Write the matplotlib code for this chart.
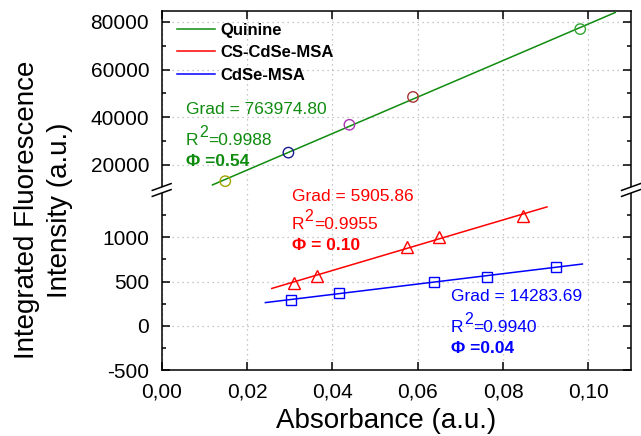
import numpy as np
import matplotlib
matplotlib.use('Agg')
import matplotlib.pyplot as plt
from matplotlib.lines import Line2D
from matplotlib.patches import Polygon
from matplotlib.text import Annotation

plt.rcParams['font.family'] = ['Liberation Sans', 'DejaVu Sans']
plt.rcParams['axes.unicode_minus'] = False

# ---------------- data ----------------
quinine_x = [0.0149, 0.0297, 0.0440, 0.0589, 0.0981]
quinine_y = [13100, 25100, 36800, 48500, 77000]
quinine_colors = ['#a3a300', '#1a1a8c', '#a833b0', '#a83333', '#33a533']
cs_x = [0.0311, 0.0364, 0.0576, 0.0649, 0.0848]
cs_y = [486, 566, 894, 1007, 1241]
cdse_x = [0.0304, 0.0415, 0.0638, 0.0762, 0.0924]
cdse_y = [291, 373, 498, 554, 667]
quinine_fit_range = [0.0119, 0.1063]
cs_fit_range = [0.0258, 0.0903]
cdse_fit_range = [0.0243, 0.0986]
series_names = ['Quinine', 'CS-CdSe-MSA', 'CdSe-MSA']
x_ticks = [0.00, 0.02, 0.04, 0.06, 0.08, 0.10]
x_ticklabels = ['0,00', '0,02', '0,04', '0,06', '0,08', '0,10']
upper_yticks = [20000, 40000, 60000, 80000]
upper_yminor = [10000, 30000, 50000, 70000]
lower_yticks = [-500, 0, 500, 1000]
lower_yminor = [-250, 250, 750, 1250]
quinine_grad, quinine_r2, quinine_phi = 'Grad = 763974.80', '=0.9988', '\u03a6 =0.54'
cs_grad, cs_r2, cs_phi = 'Grad = 5905.86', '=0.9955', '\u03a6 = 0.10'
cdse_grad, cdse_r2, cdse_phi = 'Grad = 14283.69', '=0.9940', '\u03a6 =0.04'

GREEN = '#0f8c0f'
RED = '#ff0000'
BLUE = '#0000ff'

W, H = 641, 436
fig = plt.figure(figsize=(W / 100, H / 100), dpi=100)

def fx(x):
    return x / W

def fy(y):
    return 1 - y / H

L, R, TOP, BRK, BOT = 161.7, 631.0, 11.0, 190.0, 370.0
ax_up = fig.add_axes([fx(L), fy(BRK), fx(R) - fx(L), (BRK - TOP) / H])
ax_lo = fig.add_axes([fx(L), fy(BOT), fx(R) - fx(L), (BOT - BRK) / H])

for ax in (ax_up, ax_lo):
    ax.set_xlim(0, 0.110)
    ax.set_xticks(x_ticks)
    ax.set_axisbelow(True)
    ax.grid(True, which='major', linestyle=(0, (1, 3)), color='#b5b5b5', linewidth=0.9)
    ax.tick_params(which='major', direction='in', length=6, width=1.1, labelsize=15, pad=9)
    ax.tick_params(which='minor', direction='in', length=3, width=1.1)
    for s in ax.spines.values():
        s.set_linewidth(1.1)
    ax.yaxis.set_ticks_position('both')
    ax.tick_params(axis='y', labelright=False)

ax_up.set_ylim(9400, 84600)
ax_up.set_yticks(upper_yticks)
ax_up.set_yticks(upper_yminor, minor=True)
ax_up.xaxis.set_ticks_position('top')
ax_up.tick_params(axis='x', labeltop=False, labelbottom=False)
ax_up.spines['bottom'].set_visible(False)

ax_lo.set_ylim(-500, 1535)
ax_lo.set_yticks(lower_yticks)
ax_lo.set_yticks(lower_yminor, minor=True)
ax_lo.xaxis.set_ticks_position('bottom')
ax_lo.set_xticklabels(x_ticklabels)
ax_lo.spines['top'].set_visible(False)

# quinine
p = np.polyfit(quinine_x, quinine_y, 1)
xx = np.array(quinine_fit_range)
ax_up.plot(xx, np.polyval(p, xx), color=GREEN, lw=1.1, zorder=3)
ax_up.scatter(quinine_x, quinine_y, s=7.5 ** 2, facecolors='none',
              edgecolors=quinine_colors, linewidths=1.0, zorder=4)

# CS-CdSe-MSA
p = np.polyfit(cs_x, cs_y, 1)
xx = np.array(cs_fit_range)
ax_lo.plot(xx, np.polyval(p, xx), color=RED, lw=1.1, zorder=3)
ax_lo.plot(cs_x, cs_y, ls='none', marker='^', ms=8.5, mfc='none', mec=RED, mew=1.0, zorder=4)

# CdSe-MSA
p = np.polyfit(cdse_x, cdse_y, 1)
xx = np.array(cdse_fit_range)
ax_lo.plot(xx, np.polyval(p, xx), color=BLUE, lw=1.1, zorder=3)
ax_lo.plot(cdse_x, cdse_y, ls='none', marker='s', ms=6.8, mfc='none', mec=BLUE, mew=1.0, zorder=4)

# legend
handles = [Line2D([], [], color=c, lw=1.1) for c in (GREEN, RED, BLUE)]
leg = fig.legend(handles, series_names, loc='upper left',
                 bbox_to_anchor=(fx(176.7), fy(22.5)), frameon=False,
                 borderpad=0, borderaxespad=0, handlelength=2.3, handletextpad=0.35,
                 labelspacing=0.45, prop={'weight': 'bold', 'size': 12})

# annotations
FS = 12.5

def block(x, ys, grad, r2, phi, color):
    fig.text(fx(x), fy(ys[0]), grad, color=color, fontsize=FS, va='baseline', ha='left')
    t1 = fig.text(fx(x), fy(ys[1]), 'R', color=color, fontsize=FS, va='baseline', ha='left')
    t2 = Annotation('2', xy=(1, 0), xycoords=t1, xytext=(0.4, 5.6),
                    textcoords='offset points', color=color, fontsize=11.5,
                    va='bottom', ha='left', annotation_clip=False)
    t2.set_clip_on(False)
    fig.add_artist(t2)
    t3 = Annotation(r2, xy=(1, 0), xycoords=(t2, t1), xytext=(0.3, 0),
                    textcoords='offset points', color=color, fontsize=FS,
                    va='bottom', ha='left', annotation_clip=False)
    t3.set_clip_on(False)
    fig.add_artist(t3)
    fig.text(fx(x), fy(ys[2]), phi, color=color, fontsize=FS, va='baseline', ha='left',
             fontweight='bold')

block(186, [114, 145, 166], quinine_grad, quinine_r2, quinine_phi, GREEN)
block(291.5, [200.5, 229, 250], cs_grad, cs_r2, cs_phi, RED)
block(451, [300.7, 331.7, 352.7], cdse_grad, cdse_r2, cdse_phi, BLUE)

# axis labels
fig.text(fx(386), fy(428), 'Absorbance (a.u.)', fontsize=20, ha='center', va='baseline')
fig.text(fx(43.5), fy(210), 'Integrated Fluorescence\nIntensity (a.u.)', fontsize=20,
         rotation=90, ha='center', va='center', multialignment='center', linespacing=1.35)

# break marks
def brk(x0, y0=190.0):
    dx, dy, gap = 9.4, 3.4, 3.0
    poly = [(x0 - dx, y0 - gap + dy), (x0 + dx, y0 - gap - dy),
            (x0 + dx, y0 + gap - dy), (x0 - dx, y0 + gap + dy)]
    fig.patches.append(Polygon([(fx(a), fy(b)) for a, b in poly], closed=True,
                               transform=fig.transFigure, facecolor='white',
                               edgecolor='none', zorder=10))
    for s in (-gap, gap):
        fig.lines.append(Line2D([fx(x0 - dx), fx(x0 + dx)], [fy(y0 + s + dy), fy(y0 + s - dy)],
                                transform=fig.transFigure, color='black', lw=1.1, zorder=11))

brk(L)
brk(R)

fig.savefig('out.png', dpi=100)
